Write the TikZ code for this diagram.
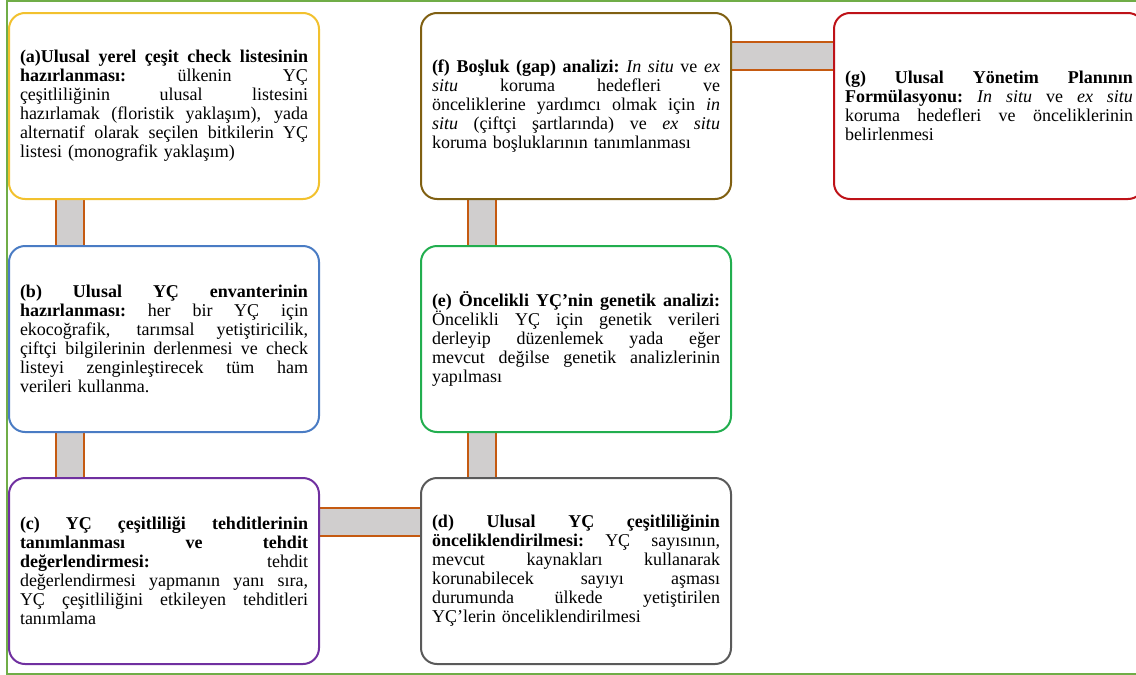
\documentclass[tikz,border=0pt]{standalone}
\usepackage{fontspec}
\setmainfont{Liberation Serif}
\usetikzlibrary{backgrounds}
\definecolor{colA}{HTML}{F2C12E}
\definecolor{colB}{HTML}{4A7CC4}
\definecolor{colC}{HTML}{7030A0}
\definecolor{colD}{HTML}{5A5A5A}
\definecolor{colE}{HTML}{22AE4F}
\definecolor{colF}{HTML}{806012}
\definecolor{colG}{HTML}{BE1218}
\definecolor{connor}{HTML}{C55A11}
\definecolor{conngray}{HTML}{D0CECE}
\definecolor{frame}{HTML}{70AD47}
\newcommand\jl[1]{\leavevmode\hbox to\hsize{\spaceskip=0.25em plus 1fil\relax\xspaceskip=0.25em plus 1fil\relax #1}}
\begin{document}
\begin{tikzpicture}[x=1pt,y=-1pt,
  box/.style={draw=#1, line width=2pt, rounded corners=16pt, fill=white,
    text width=288pt, inner xsep=11pt, inner ysep=0pt, minimum height=186pt,
    align=left, anchor=north west, font=\fontsize{18}{19}\selectfont},
  conn/.style={draw=connor, line width=2pt, double=conngray, double distance=26pt},
  outer/.style={draw=frame, line width=2pt}]
\useasboundingbox (0,0) rectangle (1136,675);

\node[box=colA] (a) at (8,12) {%
\jl{\textbf{(a)Ulusal yerel çeşit check listesinin}}\\
\jl{\textbf{hazırlanması:} ülkenin YÇ}\\
\jl{çeşitliliğinin ulusal listesini}\\
\jl{hazırlamak (floristik yaklaşım), yada}\\
\jl{alternatif olarak seçilen bitkilerin YÇ}\\
listesi (monografik yaklaşım)};

\node[box=colB] (b) at (8,245) {%
\jl{\textbf{(b) Ulusal YÇ envanterinin}}\\
\jl{\textbf{hazırlanması:} her bir YÇ için}\\
\jl{ekocoğrafik, tarımsal yetiştiricilik,}\\
\jl{çiftçi bilgilerinin derlenmesi ve check}\\
\jl{listeyi zenginleştirecek tüm ham}\\
verileri kullanma.};

\node[box=colC] (c) at (8,477) {%
\jl{\textbf{(c) YÇ çeşitliliği tehditlerinin}}\\
\jl{\textbf{tanımlanması ve tehdit}}\\
\jl{\textbf{değerlendirmesi:} tehdit}\\
\jl{değerlendirmesi yapmanın yanı sıra,}\\
\jl{YÇ çeşitliliğini etkileyen tehditleri}\\
tanımlama};

\node[box=colD] (d) at (420,477) {%
\jl{\textbf{(d) Ulusal YÇ çeşitliliğinin}}\\
\jl{\textbf{önceliklendirilmesi:} YÇ sayısının,}\\
\jl{mevcut kaynakları kullanarak}\\
\jl{korunabilecek sayıyı aşması}\\
\jl{durumunda ülkede yetiştirilen}\\
YÇ’lerin önceliklendirilmesi};

\node[box=colE] (e) at (420,245) {%
\jl{\textbf{(e) Öncelikli YÇ’nin genetik analizi:}}\\
\jl{Öncelikli YÇ için genetik verileri}\\
\jl{derleyip düzenlemek yada eğer}\\
\jl{mevcut değilse genetik analizlerinin}\\
yapılması};

\node[box=colF] (f) at (420,12) {%
\jl{\textbf{(f) Boşluk (gap) analizi:} \textit{In situ} ve \textit{ex}}\\
\jl{\textit{situ} koruma hedefleri ve}\\
\jl{önceliklerine yardımcı olmak için \textit{in}}\\
\jl{\textit{situ} (çiftçi şartlarında) ve \textit{ex situ}}\\
koruma boşluklarının tanımlanması};

\node[box=colG] (g) at (833,12) {%
\jl{\textbf{(g) Ulusal Yönetim Planının}}\\
\jl{\textbf{Formülasyonu:} \textit{In situ} ve \textit{ex situ}}\\
\jl{koruma hedefleri ve önceliklerinin}\\
belirlenmesi};

\begin{scope}[on background layer]
\fill[white] (0,0) rectangle (1136,675);
\draw[outer] (7,1.2) rectangle (1146,673.8);
\draw[conn] ([xshift=61.5pt]a.south west) -- ([xshift=61.5pt]b.north west);
\draw[conn] ([xshift=61.5pt]b.south west) -- ([xshift=61.5pt]c.north west);
\draw[conn] ([yshift=-45pt]c.north east) -- ([yshift=-45pt]d.north west);
\draw[conn] ([xshift=62pt]d.north west) -- ([xshift=62pt]e.south west);
\draw[conn] ([xshift=62pt]e.north west) -- ([xshift=62pt]f.south west);
\draw[conn] ([yshift=-43.5pt]f.north east) -- ([yshift=-43.5pt]g.north west);
\end{scope}
\end{tikzpicture}
\end{document}
